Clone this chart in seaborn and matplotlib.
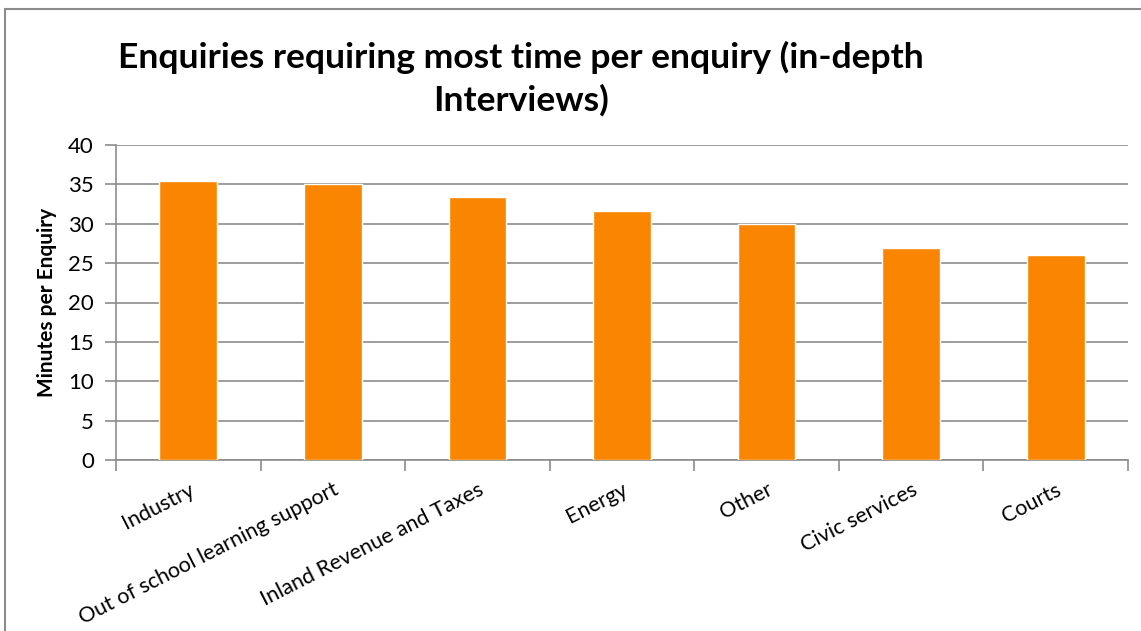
import matplotlib
matplotlib.use("Agg")
import matplotlib.pyplot as plt
import matplotlib.patches as mpatches
import seaborn as sns
import pandas as pd

categories = ["Industry", "Out of school learning support", "Inland Revenue and Taxes",
              "Energy", "Other", "Civic services", "Courts"]
minutes = [35.4, 35.0, 33.4, 31.6, 30.0, 26.9, 26.0]
y_ticks = [0, 5, 10, 15, 20, 25, 30, 35, 40]

title = "Enquiries requiring most time per enquiry (in-depth\nInterviews)"
y_label = "Minutes per Enquiry"

sns.set_theme(style="white")
plt.rcParams["font.family"] = ["Lato", "DejaVu Sans"]
plt.rcParams["text.color"] = "black"
plt.rcParams["axes.labelcolor"] = "black"
plt.rcParams["xtick.color"] = "black"
plt.rcParams["ytick.color"] = "black"

df = pd.DataFrame({"category": categories, "minutes": minutes})

W, H = 1141, 631
fig = plt.figure(figsize=(W / 100, H / 100), dpi=100)
ax = fig.add_axes([116 / W, 1 - 460 / H, (1128 - 116) / W, (460 - 145) / H])

sns.barplot(data=df, x="category", y="minutes", color="#FA8500", width=0.4,
            saturation=1, ax=ax, zorder=3)

grid_c = "#8C8C8C"
ax.set_ylim(0, 40)
ax.set_xlim(-0.5, len(categories) - 0.5)
ax.set_yticks(y_ticks)
ax.set_yticklabels([str(v) for v in y_ticks], fontsize=16)
ax.yaxis.grid(True, color=grid_c, linewidth=1.2, zorder=0)
ax.set_axisbelow(True)

for s in ["top", "right"]:
    ax.spines[s].set_visible(False)
for s in ["left", "bottom"]:
    ax.spines[s].set_color(grid_c)
    ax.spines[s].set_linewidth(1.2)

ax.tick_params(axis="y", which="major", left=True, length=8, width=1.2, color=grid_c,
               pad=8, labelcolor="black")

ax.set_xticks(range(len(categories)))
ax.set_xticklabels(categories, rotation=27, ha="right", va="top",
                   rotation_mode="anchor", fontsize=15.5, color="black")
ax.tick_params(axis="x", which="major", bottom=False, length=0, pad=14)
ax.set_xticks([i - 0.5 for i in range(len(categories) + 1)], minor=True)
ax.tick_params(axis="x", which="minor", bottom=True, length=8, width=1.2, color=grid_c)

ax.set_xlabel("")
ax.set_ylabel(y_label, fontsize=15, fontweight="bold", labelpad=8, color="black")

fig.text(521 / W, 1 - 78.5 / H, title, ha="center", va="center", fontsize=25.5,
         fontweight="bold", linespacing=1.38, color="black")

border = mpatches.Rectangle((5 / W, -0.1), 1.2, 1.1 - 9 / H, transform=fig.transFigure,
                            fill=False, edgecolor="#8C8C8C", linewidth=1.5, clip_on=False)
fig.patches.append(border)

fig.savefig("out.png", dpi=100, facecolor="white")
